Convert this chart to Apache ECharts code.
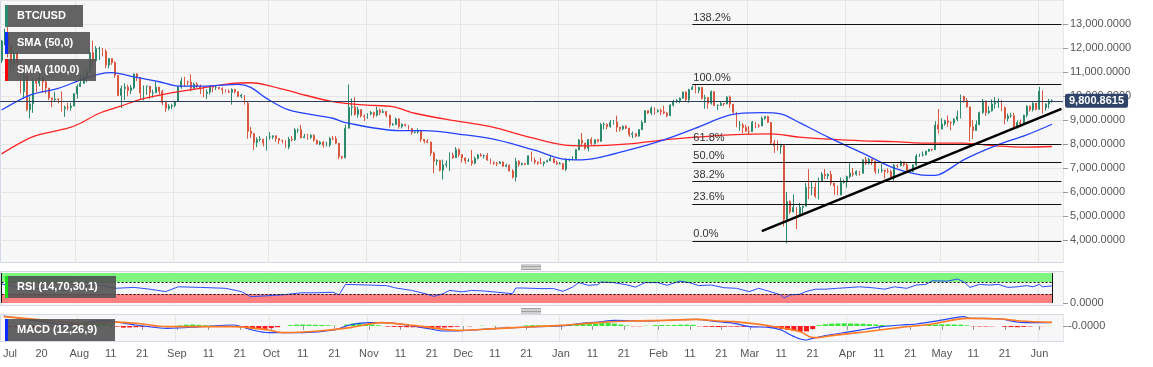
<!DOCTYPE html>
<html><head><meta charset="utf-8">
<script src="https://cdn.jsdelivr.net/npm/echarts@6/dist/echarts.min.js"></script>
<style>html,body{margin:0;padding:0;background:#fff}#c{width:1153px;height:367px}</style>
</head><body><div id="c"></div>
<script>
// ---------- DATA ----------
// daily candles [close, high, low]; open = previous close
const firstOpen = 11480;
const jul19 = [[12290,12340,11370],[12570,12800,12110],[12100,13180,11600],[11340,12100,11000],[11800,11900,11100],[11370,11830,10850],[10190,11450,10100],[10850,11070,9880],[9430,11000,9370],[9670,9990,9070],[10630,10770,9300],[10530,10740,10150],[10760,11080,10400],[10590,10820,10150],[10330,10680,10100],[9920,10330,9830],[9850,9920,9530],[9880,10180,9750],[9850,9900,9690],[9480,10190,9350],[9530,9600,9130],[9520,9720,9400],[9580,9720,9390],[10090,10120,9570]];
const aug19 = [[10400,10480,9890],[10530,10910,10380],[10820,10900,10510],[10980,11080,10580],[11800,11900,10970],[11470,12300,11230],[11980,12080,11400],[11980,12050,11500],[11860,12000,11650],[11290,11950,11160],[11560,11580,11150],[11390,11570,11300],[10860,11450,10760],[10020,10880,10000],[10310,10440,9500],[10370,10530,9830],[10230,10470,9990],[10340,10460,10080],[10920,10930,10280],[10760,10950,10620],[10130,10800,9880],[10410,10440,9810],[10410,10430,10050],[10140,10420,9880],[10140,10270,9930],[10370,10600,10140],[10190,10380,10060],[9720,10260,9620],[9490,9750,9340],[9580,9660,9400],[9600,9680,9460]];
const sep19 = [[9760,9800,9530],[10380,10440,9750],[10620,10770,10300],[10590,10800,10400],[10580,10640,10450],[10320,10900,10200],[10490,10550,10300],[10400,10580,10320],[10320,10480,10080],[10100,10380,9950],[10160,10280,9880],[10420,10450,10060],[10360,10440,10160],[10360,10420,10250],[10310,10380,10270],[10260,10360,10080],[10180,10270,10150],[10160,10280,10120],[10270,10320,9640],[10180,10300,10100],[9990,10180,9950],[10030,10090,9900],[9700,10030,9640],[8530,9790,8220],[8430,8720,8250],[8060,8460,7750],[8190,8280,7870],[8200,8330,8100],[8040,8200,7900],[8300,8320,7730]];
const oct19 = [[8300,8500,8180],[8340,8350,8200],[8230,8350,8090],[8150,8230,8000],[8140,8180,8030],[7870,8170,7840],[8200,8300,7780],[8180,8330,8100],[8590,8670,8120],[8590,8640,8460],[8260,8800,8230],[8300,8420,8250],[8280,8420,8180],[8360,8410,8210],[8160,8400,8100],[8000,8180,7980],[8080,8130,7950],[7960,8120,7850],[7960,8090,7900],[8230,8300,7880],[8220,8330,8160],[8030,8330,8000],[7470,8050,7370],[7430,7510,7370],[8660,8800,7400],[9530,10480,8650],[9550,9900,9180],[9230,9950,9180],[9430,9550,9100],[9170,9440,9100],[9150,9230,8960]];
const nov19 = [[9250,9280,9050],[9310,9380,9200],[9200,9350,9080],[9400,9550,9140],[9310,9480,9200],[9350,9450,9290],[9200,9380,9110],[8800,9220,8690],[8810,8880,8760],[9040,9100,8790],[8730,9070,8640],[8820,8860,8650],[8780,8840,8730],[8640,8790,8590],[8480,8670,8390],[8500,8530,8440],[8550,8650,8430],[8200,8560,8090],[8120,8200,8030],[8080,8200,8030],[7620,8100,7500],[7280,7680,6790],[7320,7370,7110],[6910,7340,6860],[7130,7350,6520],[7170,7320,7020],[7520,7650,6870],[7430,7640,7380],[7760,7870,7420],[7560,7820,7460]];
const dec19 = [[7420,7560,7230],[7300,7430,7170],[7300,7400,7250],[7200,7750,7090],[7400,7480,7150],[7540,7580,7360],[7500,7620,7480],[7520,7560,7400],[7340,7620,7300],[7220,7390,7160],[7200,7270,7130],[7190,7250,7080],[7250,7290,7180],[7070,7270,7040],[7110,7180,7030],[6880,7150,6850],[6620,6950,6560],[7280,7420,6440],[7150,7330,7050],[7190,7220,7100],[7150,7200,7120],[7510,7520,7140],[7320,7690,7270],[7250,7430,7160],[7200,7270,7130],[7190,7430,7160],[7250,7270,7070],[7300,7350,7240],[7390,7520,7290],[7220,7400,7220],[7170,7300,7140]];
const jan20 = [[7180,7250,7150],[6950,7210,6920],[7340,7400,6870],[7350,7390,7270],[7360,7490,7320],[7760,7780,7360],[8160,8210,7740],[8040,8460,7890],[7820,8040,7760],[8190,8200,7690],[8020,8280,7960],[8180,8190,7970],[8110,8190,8060],[8810,8880,8100],[8820,8900,8610],[8720,8850,8610],[8900,9000,8680],[8920,9000,8810],[8700,9180,8500],[8630,8720,8520],[8740,8770,8570],[8660,8790,8620],[8390,8670,8300],[8430,8520,8240],[8330,8440,8270],[8600,8610,8300],[8900,8980,8580],[9390,9400,8880],[9290,9410,9250],[9500,9560,9200],[9350,9530,9220]];
const feb20 = [[9390,9450,9310],[9340,9480,9200],[9290,9600,9250],[9180,9330,9110],[9620,9660,9170],[9750,9850,9560],[9810,9880,9710],[9910,9940,9700],[10170,10180,9880],[9850,10190,9750],[10270,10300,9720],[10360,10440,10260],[10240,10500,10110],[10360,10380,10120],[9900,10380,9850],[9930,10050,9470],[9700,9960,9470],[10180,10230,9640],[9600,10190,9590],[9610,9650,9410],[9690,9760,9590],[9670,9700,9580],[9960,9980,9660],[9660,10020,9500],[9320,9660,9260],[8790,9340,8700],[8790,8960,8550],[8690,8880,8460],[8530,8800,8520]];
const mar20 = [[8520,8750,8410],[8910,8960,8520],[8760,8920,8660],[8750,8840,8680],[9070,9150,8760],[9150,9170,9010],[8900,9180,8870],[8040,8900,8000],[7930,8170,7630],[7890,8150,7730],[7940,7970,7590],[4860,7950,4570],[5600,6000,3860],[5170,5650,5090],[5360,5900,5160],[5020,5370,4450],[5360,5550,4980],[5410,5430,5030],[6190,6370,5400],[6180,6950,5700],[6190,6440,5860],[5830,6400,5760],[6470,6600,5690],[6740,6830,6430],[6680,6960,6540],[6730,6780,6540],[6370,6880,6270],[6250,6270,5880],[5880,6260,5870],[6400,6600,5860],[6420,6520,6350]];
const apr20 = [[6640,6680,6180],[6790,7200,6580],[6740,7000,6640],[6860,6900,6680],[6780,6880,6690],[7340,7360,6770],[7200,7460,7120],[7370,7420,7150],[7290,7370,7120],[6860,7300,6750],[6880,6950,6780],[6910,7180,6810],[6860,6920,6560],[6850,6990,6780],[6620,6930,6610],[7110,7170,6480],[7100,7150,7000],[7260,7310,7070],[7130,7260,7060],[6850,7220,6790],[6850,6940,6800],[7130,7150,6830],[7500,7580,7090],[7540,7590,7460],[7550,7690,7480],[7700,7720,7520],[7780,7800,7680],[7760,7800,7700],[8790,8950,7750],[8620,9460,8430]];
const may20 = [[8830,9080,8620],[8970,9010,8760],[8900,9190,8720],[8880,8950,8570],[9030,9080,8780],[9150,9390,8950],[9990,10060,9060],[9810,10000,9720],[9540,9910,9520],[8720,9560,8110],[8560,9000,8200],[8810,8980,8550],[9310,9350,8780],[9790,9880,9260],[9310,9810,9170],[9380,9580,9250],[9670,9860,9350],[9730,9950,9470],[9780,9900,9500],[9510,9830,9370],[9060,9560,8820],[9170,9270,8940],[9180,9300,9090],[8720,9300,8700],[8900,8980,8640],[8840,9020,8700],[9200,9220,8810],[9570,9620,9110],[9430,9600,9350],[9700,9740,9360],[9450,9710,9400]];
const jun20 = [[10200,10380,9420],[9520,10230,9270],[9670,9690,9390],[9790,9880,9480],[9800.8615,9860,9720]];

const lastPrice = 9800.8615;

// SMA lines [date, value]
const sma50 = [['2019-07-08',9418],['2019-07-17',10040],['2019-07-26',10320],['2019-08-02',10665],['2019-08-08',10914],['2019-08-12',10970],['2019-08-19',10800],['2019-08-27',10594],['2019-09-02',10415],['2019-09-11',10415],['2019-09-21',10486],['2019-09-25',10360],['2019-09-30',9900],['2019-10-07',9418],['2019-10-21',9073],['2019-10-25',8890],['2019-11-11',8558],['2019-11-19',8558],['2019-12-02',8380],['2019-12-12',8172],['2019-12-24',7740],['2020-01-02',7370],['2020-01-08',7341],['2020-01-23',7756],['2020-02-03',8172],['2020-02-13',8658],['2020-02-24',9211],['2020-03-05',9306],['2020-03-11',9252],['2020-03-17',8890],['2020-03-26',8284],['2020-04-06',7619],['2020-04-16',6996],['2020-04-27',6689],['2020-04-30',6717],['2020-05-08',7341],['2020-05-18',7923],['2020-05-28',8380],['2020-06-05',8824]];
const sma100 = [['2019-07-08',7590],['2019-07-18',8310],['2019-07-29',8658],['2019-08-02',8866],['2019-08-08',9281],['2019-08-15',9585],['2019-08-21',9862],['2019-08-30',10112],['2019-09-09',10320],['2019-09-19',10528],['2019-09-25',10553],['2019-09-30',10457],['2019-10-10',10112],['2019-10-21',9763],['2019-10-31',9626],['2019-11-09',9555],['2019-11-16',9281],['2019-11-27',9003],['2019-12-07',8795],['2019-12-12',8658],['2019-12-24',8230],['2020-01-02',7964],['2020-01-10',7923],['2020-01-23',8006],['2020-02-03',8172],['2020-02-13',8284],['2020-02-24',8380],['2020-03-08',8421],['2020-03-17',8284],['2020-03-26',8200],['2020-04-06',8130],['2020-04-16',8101],['2020-04-27',8035],['2020-05-08',8035],['2020-05-18',7923],['2020-05-28',7869],['2020-06-05',7896]];

// Fibonacci retracement
const fibHigh = 10486, fibLow = 3968;
const fibRatios = [0, 0.236, 0.382, 0.5, 0.618, 1, 1.382];
const fibLabels = ['0.0%','23.6%','38.2%','50.0%','61.8%','100.0%','138.2%'];
const fibStart = '2020-02-12';
// trend line
const trendFrom = ['2020-03-05', 4370];
const trendTo = ['2020-06-08', 9465];

// RSI (14)
const rsi = [['2019-07-08',63],['2019-07-11',58],['2019-07-14',48],['2019-07-17',42],['2019-07-20',50],['2019-07-24',44],['2019-07-28',42],['2019-08-01',50],['2019-08-06',60],['2019-08-09',58],['2019-08-13',49],['2019-08-19',52],['2019-08-24',46],['2019-08-29',38],['2019-09-02',54],['2019-09-09',52],['2019-09-17',49],['2019-09-22',38],['2019-09-25',21],['2019-09-30',24],['2019-10-05',27],['2019-10-11',34],['2019-10-16',34],['2019-10-21',36],['2019-10-23',27],['2019-10-25',62],['2019-11-01',60],['2019-11-07',58],['2019-11-10',50],['2019-11-15',42],['2019-11-20',29],['2019-11-22',22],['2019-11-25',31],['2019-11-27',42],['2019-12-01',37],['2019-12-04',42],['2019-12-08',40],['2019-12-15',33],['2019-12-17',31],['2019-12-18',50],['2019-12-20',50],['2019-12-26',48],['2019-12-30',48],['2020-01-02',39],['2020-01-05',53],['2020-01-07',68],['2020-01-10',59],['2020-01-13',61],['2020-01-14',70],['2020-01-18',68],['2020-01-22',61],['2020-01-25',53],['2020-01-28',68],['2020-02-01',68],['2020-02-04',59],['2020-02-08',73],['2020-02-11',68],['2020-02-14',58],['2020-02-18',60],['2020-02-22',51],['2020-02-26',49],['2020-03-01',38],['2020-03-04',49],['2020-03-07',40],['2020-03-11',27],['2020-03-12',16],['2020-03-14',27],['2020-03-17',29],['2020-03-19',38],['2020-03-22',46],['2020-03-25',46],['2020-03-29',49],['2020-04-01',51],['2020-04-05',54],['2020-04-09',51],['2020-04-13',46],['2020-04-16',54],['2020-04-20',49],['2020-04-23',60],['2020-04-26',62],['2020-04-28',74],['2020-05-03',73],['2020-05-06',80],['2020-05-08',71],['2020-05-10',52],['2020-05-13',62],['2020-05-16',60],['2020-05-19',62],['2020-05-22',52],['2020-05-25',54],['2020-05-28',58],['2020-05-30',54],['2020-06-01',62],['2020-06-02',54],['2020-06-05',57]];

// MACD (12,26,9)
const macdLine = [['2019-07-08',667],['2019-07-18',356],['2019-07-29',67],['2019-08-08',356],['2019-08-12',289],['2019-08-19',67],['2019-08-29',-156],['2019-09-09',-44],['2019-09-19',67],['2019-09-25',-267],['2019-09-30',-444],['2019-10-11',-444],['2019-10-21',-267],['2019-10-26',67],['2019-11-01',222],['2019-11-05',222],['2019-11-10',156],['2019-11-15',0],['2019-11-20',-178],['2019-11-25',-333],['2019-11-28',-333],['2019-12-07',-222],['2019-12-17',-111],['2019-12-28',-22],['2020-01-03',44],['2020-01-07',156],['2020-01-13',267],['2020-01-18',378],['2020-01-29',333],['2020-02-08',422],['2020-02-13',444],['2020-02-19',311],['2020-02-25',178],['2020-03-01',-44],['2020-03-07',-89],['2020-03-11',-267],['2020-03-14',-600],['2020-03-17',-867],['2020-03-19',-933],['2020-03-21',-822],['2020-03-26',-600],['2020-04-02',-378],['2020-04-07',-200],['2020-04-12',-44],['2020-04-18',67],['2020-04-23',133],['2020-04-28',289],['2020-05-04',511],['2020-05-08',622],['2020-05-10',511],['2020-05-14',511],['2020-05-20',467],['2020-05-24',289],['2020-05-28',222],['2020-06-01',222],['2020-06-05',244]];
const macdSignal = [['2019-07-08',622],['2019-07-18',444],['2019-07-29',220],['2019-08-01',150],['2019-08-12',260],['2019-08-19',180],['2019-08-29',-44],['2019-09-09',-44],['2019-09-19',-44],['2019-09-30',-267],['2019-10-05',-444],['2019-10-16',-333],['2019-10-26',-111],['2019-11-05',222],['2019-11-15',44],['2019-11-25',-222],['2019-11-30',-289],['2019-12-11',-178],['2019-12-21',-67],['2020-01-01',44],['2020-01-13',222],['2020-01-23',333],['2020-02-03',378],['2020-02-13',444],['2020-02-20',333],['2020-02-25',289],['2020-03-07',22],['2020-03-17',-378],['2020-03-20',-711],['2020-03-22',-778],['2020-03-27',-644],['2020-04-07',-378],['2020-04-18',-89],['2020-04-28',133],['2020-05-09',511],['2020-05-20',467],['2020-05-26',333],['2020-06-05',244]];
const macdHist = [['2019-07-10',-60],['2019-07-12',-120],['2019-07-14',-160],['2019-07-16',-200],['2019-07-18',-160],['2019-07-20',-120],['2019-07-22',-90],['2019-07-24',-60],['2019-07-26',-40],['2019-07-28',-20],['2019-07-30',40],['2019-08-01',100],['2019-08-03',150],['2019-08-05',190],['2019-08-07',220],['2019-08-09',200],['2019-08-11',120],['2019-08-13',-40],['2019-08-15',-110],['2019-08-17',-100],['2019-08-19',-80],['2019-08-21',-60],['2019-08-23',-40],['2019-08-25',-30],['2019-08-27',-20],['2019-09-02',40],['2019-09-04',90],['2019-09-06',100],['2019-09-08',80],['2019-09-10',50],['2019-09-12',30],['2019-09-16',20],['2019-09-20',-30],['2019-09-23',-80],['2019-09-25',-160],['2019-09-27',-200],['2019-09-29',-190],['2019-10-01',-140],['2019-10-03',-80],['2019-10-07',60],['2019-10-09',90],['2019-10-11',100],['2019-10-13',90],['2019-10-15',80],['2019-10-17',70],['2019-10-19',50],['2019-10-21',20],['2019-10-25',100],['2019-10-27',170],['2019-10-29',180],['2019-10-31',150],['2019-11-02',100],['2019-11-04',50],['2019-11-07',-40],['2019-11-09',-60],['2019-11-11',-70],['2019-11-13',-80],['2019-11-15',-85],['2019-11-17',-95],['2019-11-19',-105],['2019-11-21',-110],['2019-11-23',-110],['2019-11-25',-100],['2019-11-27',-80],['2019-11-29',-50],['2019-12-03',-20],['2019-12-07',20],['2019-12-11',10],['2019-12-15',-10],['2019-12-21',40],['2019-12-23',60],['2019-12-25',50],['2019-12-27',50],['2019-12-29',60],['2019-12-31',60],['2020-01-02',70],['2020-01-04',90],['2020-01-06',120],['2020-01-08',160],['2020-01-10',170],['2020-01-12',160],['2020-01-14',190],['2020-01-16',200],['2020-01-18',160],['2020-01-20',100],['2020-01-22',40],['2020-01-24',-20],['2020-01-26',-20],['2020-01-28',20],['2020-01-31',60],['2020-02-02',70],['2020-02-04',60],['2020-02-06',70],['2020-02-08',90],['2020-02-10',90],['2020-02-12',80],['2020-02-14',-20],['2020-02-16',-50],['2020-02-18',-60],['2020-02-20',-70],['2020-02-22',-50],['2020-02-24',-40],['2020-02-26',-50],['2020-02-28',-50],['2020-03-01',-40],['2020-03-03',-30],['2020-03-05',-10],['2020-03-07',-40],['2020-03-09',-120],['2020-03-11',-180],['2020-03-13',-260],['2020-03-15',-330],['2020-03-17',-380],['2020-03-19',-360],['2020-03-21',-200],['2020-03-23',60],['2020-03-25',120],['2020-03-27',160],['2020-03-29',170],['2020-03-31',180],['2020-04-02',170],['2020-04-04',160],['2020-04-06',150],['2020-04-08',130],['2020-04-10',100],['2020-04-12',70],['2020-04-14',40],['2020-04-23',40],['2020-04-25',60],['2020-04-27',80],['2020-04-29',100],['2020-05-01',110],['2020-05-03',110],['2020-05-05',100],['2020-05-07',90],['2020-05-09',40],['2020-05-11',-20],['2020-05-13',-30],['2020-05-15',-30],['2020-05-17',-20],['2020-05-21',-50],['2020-05-23',-70],['2020-05-25',-80],['2020-05-27',-60],['2020-05-29',-30],['2020-06-02',-10],['2020-06-04',10]];

// x tick labels
const tickDates = ['2019-07-10','2019-07-20','2019-08-01','2019-08-11','2019-08-21','2019-09-01','2019-09-11','2019-09-21','2019-10-01','2019-10-11','2019-10-21','2019-11-01','2019-11-11','2019-11-21','2019-12-01','2019-12-11','2019-12-21','2020-01-01','2020-01-11','2020-01-21','2020-02-01','2020-02-11','2020-02-21','2020-03-01','2020-03-11','2020-03-21','2020-04-01','2020-04-11','2020-04-21','2020-05-01','2020-05-11','2020-05-21','2020-06-01'];
const tickTexts = ['Jul','20','Aug','11','21','Sep','11','21','Oct','11','21','Nov','11','21','Dec','11','21','Jan','11','21','Feb','11','21','Mar','11','21','Apr','11','21','May','11','21','Jun'];

// ---------- BUILD ----------
const categories = [];
const startMs = Date.UTC(2019, 6, 8);
for (let i = 0; i < 337; i++) categories.push(new Date(startMs + i * 864e5).toISOString().slice(0, 10));
const days = [].concat(jul19, aug19, sep19, oct19, nov19, dec19, jan20, feb20, mar20, apr20, may20, jun20);
const candles = days.map((d, i) => [i === 0 ? firstOpen : days[i - 1][0], d[0], d[2], d[1]]);
const firstDate = categories[0], lastDate = categories[days.length - 1], endDate = categories[categories.length - 1];
const tickMap = {}; tickDates.forEach((d, i) => tickMap[d] = tickTexts[i]);
const isMonth = (idx, v) => String(v).slice(8) === '01';
const fmtPrice = v => String(v).replace(/\B(?=(\d{3})+(?!\d))/g, ',') + '.0000';

const FONT = '"Liberation Sans", Arial, sans-serif';
const GREEN = '#2b8a6e', RED = '#d9563f';
const GRIDC = '#e6e6e6', BORDER = '#d3d8e5', PANEL = '#f7f7f7';
const W = 1063;

const fibLines = fibRatios.map((r, i) => {
  const lv = fibLow + r * (fibHigh - fibLow);
  return [
    {coord: [fibStart, lv], lineStyle: {color: '#111', width: 1, type: 'solid'},
     label: {show: true, formatter: fibLabels[i], position: 'insideStartTop', distance: 1, color: '#333', fontSize: 11, fontFamily: FONT}},
    {coord: [endDate, lv]}
  ];
});

function legendBox(y, w, color, text) {
  return {type: 'group', z: 100, children: [
    {type: 'rect', z: 100, shape: {x: 5, y: y, width: w, height: 22}, style: {fill: 'rgba(82,82,82,0.9)'}},
    {type: 'rect', z: 101, shape: {x: 5, y: y, width: 3, height: 22}, style: {fill: color}},
    {type: 'text', z: 101, style: {x: 17, y: y + 11, text: text, fill: '#fff', font: 'bold 11px ' + FONT, verticalAlign: 'middle'}}
  ]};
}
function handle(y) {
  return {type: 'group', z: 60, children: [0, 1.5, 3, 4.5].map(o => ({type: 'line', z: 60, shape: {x1: 521, y1: y + o, x2: 541, y2: y + o}, style: {stroke: '#8a8a8a', lineWidth: 0.8}}))};
}

const xBase = {type: 'category', data: categories, boundaryGap: true,
  axisLine: {show: false}, axisTick: {show: false}, axisLabel: {show: false},
  splitLine: {show: true, interval: isMonth, lineStyle: {color: GRIDC, width: 1}}};

const option = {
  animation: false,
  textStyle: {fontFamily: FONT},
  graphic: {elements: [
    {type: 'rect', z: -10, shape: {x: 0.5, y: 0.5, width: W, height: 262}, style: {fill: PANEL, stroke: BORDER, lineWidth: 1}},
    {type: 'rect', z: -10, shape: {x: 0.5, y: 271.5, width: W, height: 34}, style: {fill: PANEL, stroke: BORDER, lineWidth: 1}},
    {type: 'rect', z: -10, shape: {x: 0.5, y: 314.5, width: W, height: 27}, style: {fill: PANEL, stroke: BORDER, lineWidth: 1}},
    {type: 'rect', z: 50, shape: {x: 0, y: 263, width: 1153, height: 8}, style: {fill: '#fff'}},
    handle(265), handle(308.5),
    legendBox(5, 78, '#2b8a6e', 'BTC/USD'),
    legendBox(32, 85, '#0a2cff', 'SMA (50,0)'),
    legendBox(59, 91, '#ff0000', 'SMA (100,0)'),
    legendBox(276, 111, '#14e014', 'RSI (14,70,30,1)'),
    legendBox(319, 110, '#0a2cff', 'MACD (12,26,9)')
  ]},
  grid: [
    {left: 0, width: W, top: -1, height: 265},
    {left: 0, width: W, top: 271, height: 34},
    {left: 0, width: W, top: 314, height: 27}
  ],
  xAxis: [
    Object.assign({gridIndex: 0}, xBase),
    Object.assign({gridIndex: 1}, xBase),
    Object.assign({}, xBase, {gridIndex: 2,
      axisTick: {show: true, alignWithLabel: true, length: 4, interval: (i, v) => tickMap[v] !== undefined, lineStyle: {color: '#9a9a9a'}},
      axisLabel: {show: true, interval: (i, v) => tickMap[v] !== undefined, formatter: v => tickMap[v] || '', color: '#555', fontSize: 11, margin: 7}})
  ],
  yAxis: [
    {gridIndex: 0, type: 'value', position: 'right', min: 3000, max: 14000, interval: 1000,
     axisLine: {show: false}, axisTick: {show: true, length: 5, lineStyle: {color: '#9a9a9a'}},
     axisLabel: {color: '#555', fontSize: 11, margin: 7, showMinLabel: false, showMaxLabel: false, formatter: fmtPrice},
     splitLine: {show: true, lineStyle: {color: GRIDC}}},
    {gridIndex: 1, type: 'value', position: 'right', min: -6.667, max: 106.667,
     axisLine: {show: false}, axisTick: {show: true, length: 5, customValues: [0], lineStyle: {color: '#9a9a9a'}},
     axisLabel: {color: '#555', fontSize: 11, margin: 7, customValues: [0], formatter: () => '0.0000'},
     splitLine: {show: false}},
    {gridIndex: 2, type: 'value', position: 'right', min: -1000, max: 800,
     axisLine: {show: false}, axisTick: {show: true, length: 5, customValues: [0], lineStyle: {color: '#9a9a9a'}},
     axisLabel: {color: '#555', fontSize: 11, margin: 5, customValues: [0], formatter: () => '-0.0000'},
     splitLine: {show: false}}
  ],
  series: [
    {type: 'candlestick', xAxisIndex: 0, yAxisIndex: 0, data: candles, barWidth: 1.4,
     itemStyle: {color: GREEN, color0: RED, borderColor: GREEN, borderColor0: RED, borderWidth: 1},
     markLine: {silent: true, symbol: ['none', 'none'], label: {show: false}, animation: false,
       data: fibLines.concat([
         [{coord: trendFrom, lineStyle: {color: '#000', width: 2.6, type: 'solid'}}, {coord: trendTo}],
         {yAxis: lastPrice, lineStyle: {color: '#2d3f5f', width: 1, type: 'solid'},
          label: {show: true, position: 'end', formatter: '9,800.8615', backgroundColor: '#2e4468', color: '#fff',
                  fontWeight: 'bold', fontSize: 11, fontFamily: FONT, padding: [2, 4, 1, 4], borderRadius: 2, distance: 2}}
       ])}},
    {type: 'line', xAxisIndex: 0, yAxisIndex: 0, data: sma100, smooth: 0.3, showSymbol: false, lineStyle: {color: '#ff2323', width: 1.3}},
    {type: 'line', xAxisIndex: 0, yAxisIndex: 0, data: sma50, smooth: 0.3, showSymbol: false, lineStyle: {color: '#2443ff', width: 1.3}},
    {type: 'line', xAxisIndex: 1, yAxisIndex: 1, data: rsi, showSymbol: false, lineStyle: {color: '#2b4cff', width: 1},
     markArea: {silent: true, data: [
       [{coord: [firstDate, 70], itemStyle: {color: '#80f580', opacity: 1}}, {coord: [lastDate, 100]}],
       [{coord: [firstDate, 0], itemStyle: {color: '#ff8080', opacity: 1}}, {coord: [lastDate, 30]}]
     ]},
     markLine: {silent: true, symbol: ['none', 'none'], label: {show: false},
       lineStyle: {color: '#111', width: 1, type: [2, 2]},
       data: [
         [{coord: [firstDate, 70]}, {coord: [lastDate, 70]}],
         [{coord: [firstDate, 30]}, {coord: [lastDate, 30]}],
         [{coord: [lastDate, 0], lineStyle: {type: 'solid'}}, {coord: [lastDate, 100]}],
         [{coord: [firstDate, 0], lineStyle: {type: 'solid'}}, {coord: [firstDate, 100]}]
       ]}},
    {type: 'bar', xAxisIndex: 2, yAxisIndex: 2, data: macdHist, barWidth: 5,
     itemStyle: {color: p => (p.value[1] >= 0 ? '#36e836' : '#ff1a1a')}},
    {type: 'line', xAxisIndex: 2, yAxisIndex: 2, data: macdLine, smooth: 0.3, showSymbol: false, lineStyle: {color: '#2443ff', width: 1.2}},
    {type: 'line', xAxisIndex: 2, yAxisIndex: 2, data: macdSignal, smooth: 0.3, showSymbol: false, lineStyle: {color: '#ff7a22', width: 1.6}}
  ]
};
const chart = echarts.init(document.getElementById('c'), null, {renderer: 'canvas'});
chart.setOption(option);
</script></body></html>
